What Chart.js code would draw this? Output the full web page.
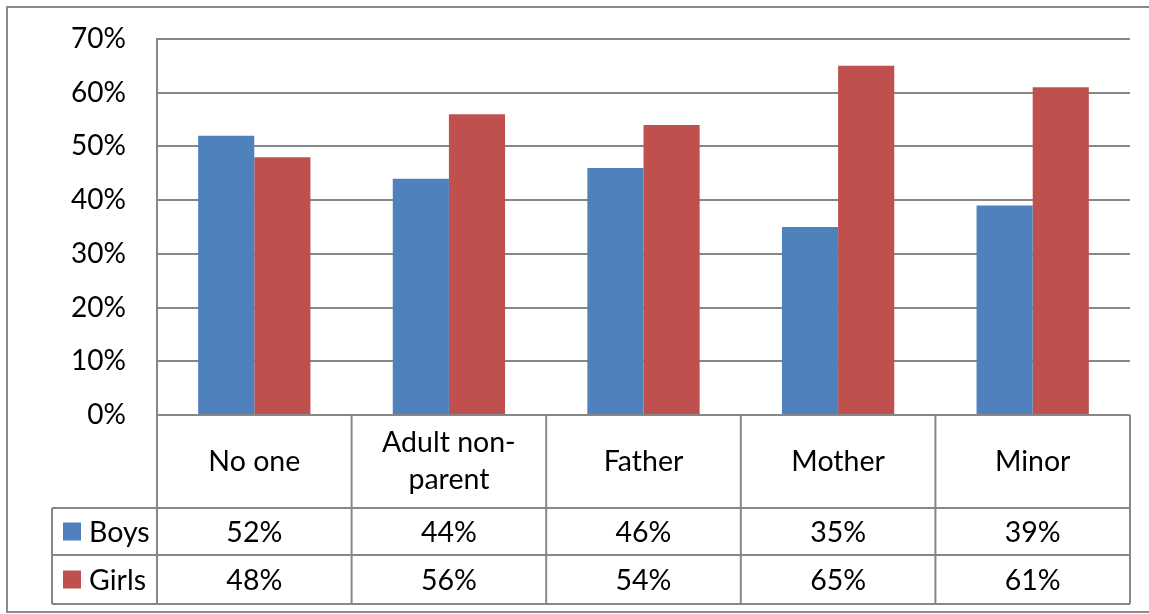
<!DOCTYPE html>
<html>
<head>
<meta charset="utf-8">
<script src="https://cdn.jsdelivr.net/npm/chart.js@4"></script>
<style>
html,body{margin:0;padding:0;background:#fff;}
#wrap{width:1149px;height:614px;position:relative;}
</style>
</head>
<body>
<div id="wrap"><canvas id="c" width="1149" height="614"></canvas></div>
<script>
const categories = ["No one", ["Adult non-", "parent"], "Father", "Mother", "Minor"];
const seriesNames = ["Boys", "Girls"];
const boys = [52, 44, 46, 35, 39];
const girls = [48, 56, 54, 65, 61];
const yMax = 70;
const yStep = 10;

const FONT = "Lato, 'Open Sans', sans-serif";
const GRID = "#878787";
const colors = ["#4F81BD", "#C0504D"];

const tablePlugin = {
  id: "dataTable",
  afterDraw(chart) {
    const ctx = chart.ctx;
    const a = chart.chartArea;
    const xs = chart.scales.x;
    const n = categories.length;
    const cw = (a.right - a.left) / n;
    const headerBottom = a.bottom + 93;
    const row1Bottom = headerBottom + 47;
    const row2Bottom = row1Bottom + 49;
    const legendLeft = 52;
    ctx.save();
    ctx.strokeStyle = GRID;
    ctx.lineWidth = 2;
    const line = (x1, y1, x2, y2) => { ctx.beginPath(); ctx.moveTo(x1, y1); ctx.lineTo(x2, y2); ctx.stroke(); };
    line(a.left, a.bottom, a.right, a.bottom);
    line(legendLeft, headerBottom, a.right, headerBottom);
    line(legendLeft, row1Bottom, a.right, row1Bottom);
    line(legendLeft, row2Bottom, a.right, row2Bottom);
    line(legendLeft, headerBottom, legendLeft, row2Bottom);
    line(a.left, a.top, a.left, row2Bottom);
    for (let i = 0; i < n; i++) {
      const xr = a.left + cw * (i + 1);
      line(xr, a.bottom, xr, row2Bottom);
    }
    ctx.strokeStyle = "#8a8a8a";
    ctx.strokeRect(7, 7, 1160, 605);

    ctx.fillStyle = "#000";
    ctx.font = "28.5px " + FONT;
    ctx.textAlign = "center";
    ctx.textBaseline = "middle";
    for (let i = 0; i < n; i++) {
      const cx = xs.getPixelForValue(i);
      const lab = categories[i];
      const hc = (a.bottom + headerBottom) / 2;
      if (Array.isArray(lab)) {
        const lh = 37;
        lab.forEach((t, k) => ctx.fillText(t, cx, hc + (k - (lab.length - 1) / 2) * lh));
      } else {
        ctx.fillText(lab, cx, hc);
      }
      ctx.fillText(boys[i] + "%", cx, (headerBottom + row1Bottom) / 2 + 1);
      ctx.fillText(girls[i] + "%", cx, (row1Bottom + row2Bottom) / 2 + 1);
    }
    const rows = [[headerBottom, row1Bottom], [row1Bottom, row2Bottom]];
    ctx.textAlign = "left";
    seriesNames.forEach((s, k) => {
      const cy = (rows[k][0] + rows[k][1]) / 2;
      ctx.fillStyle = colors[k];
      ctx.fillRect(63, cy - 9, 18, 18);
      ctx.fillStyle = "#000";
      ctx.fillText(s, 89, cy + 1);
    });
    ctx.restore();
  }
};

new Chart(document.getElementById("c"), {
  type: "bar",
  data: {
    labels: categories,
    datasets: [
      { label: seriesNames[0], data: boys, backgroundColor: colors[0], categoryPercentage: 0.577, barPercentage: 1 },
      { label: seriesNames[1], data: girls, backgroundColor: colors[1], categoryPercentage: 0.577, barPercentage: 1 }
    ]
  },
  options: {
    responsive: false,
    animation: false,
    layout: { padding: { left: 0, right: 19, top: 39, bottom: 199 } },
    plugins: { legend: { display: false }, tooltip: { enabled: false } },
    scales: {
      x: { display: false },
      y: {
        min: 0, max: yMax,
        afterFit(scale) { scale.width = 157; },
        ticks: {
          stepSize: yStep,
          padding: 0,
          color: "#000",
          font: { family: FONT, size: 28 },
          callback: v => v + "%"
        },
        grid: { color: GRID, lineWidth: 2, drawTicks: true, tickLength: 31, tickColor: "rgba(0,0,0,0)" },
        border: { display: true, color: GRID, width: 2 }
      }
    }
  },
  plugins: [tablePlugin]
});
</script>
</body>
</html>
